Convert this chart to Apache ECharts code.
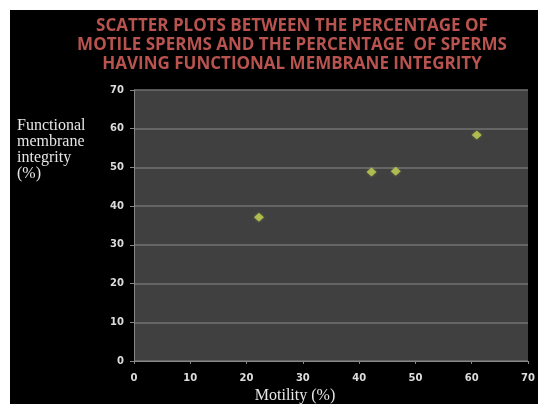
<!DOCTYPE html>
<html>
<head>
<meta charset="utf-8">
<script src="https://cdn.jsdelivr.net/npm/echarts@6/dist/echarts.min.js"></script>
<style>
  html, body { margin: 0; padding: 0; background: #ffffff; }
  #chart { width: 538px; height: 404px; }
</style>
</head>
<body>
<div id="chart"></div>
<script>
// Motility (%) vs functional membrane integrity (%)
const motility = [22.2, 42.2, 46.5, 60.9];
const membraneIntegrity = [37.1, 48.8, 49.0, 58.4];
const titleLines = [
  'SCATTER PLOTS BETWEEN THE PERCENTAGE OF',
  'MOTILE SPERMS AND THE PERCENTAGE  OF SPERMS',
  'HAVING FUNCTIONAL MEMBRANE INTEGRITY'
];
const yTitleLines = ['Functional', 'membrane', 'integrity', '(%)'];
const xTitle = 'Motility (%)';

const points = motility.map((m, i) => [m, membraneIntegrity[i]]);

const chart = echarts.init(document.getElementById('chart'), null, { renderer: 'canvas' });

const titleColor = '#b8534f';
const tickLabel = { color: '#dcdcdc', fontFamily: 'DejaVu Sans', fontWeight: 'bold', fontSize: 10 };

chart.setOption({
  backgroundColor: '#ffffff',
  animation: false,
  graphic: [
    { type: 'rect', left: 10, top: 10, z: -10, shape: { width: 528, height: 394 }, style: { fill: '#000000' } },
    { type: 'text', x: 292, y: 17,
      style: { text: titleLines.join('\n'), fill: titleColor, font: 'bold 17px "Open Sans"', lineHeight: 19, align: 'center' } },
    { type: 'text', left: 17, top: 118,
      style: { text: yTitleLines.join('\n'), fill: '#e6e6e6', font: '16px "Liberation Serif"', lineHeight: 16 } },
    { type: 'text', x: 295, y: 396,
      style: { text: xTitle, fill: '#e6e6e6', font: '16px "Liberation Serif"', align: 'center', verticalAlign: 'middle' } }
  ],
  grid: { left: 134, right: 10, top: 90, bottom: 43, backgroundColor: '#404040', show: true, borderWidth: 0 },
  xAxis: {
    type: 'value', min: 0, max: 70, interval: 10,
    axisLine: { show: true, lineStyle: { color: '#888888', width: 1 } },
    axisTick: { show: true, length: 3, lineStyle: { color: '#888888' } },
    splitLine: { show: false },
    axisLabel: Object.assign({ margin: 12 }, tickLabel)
  },
  yAxis: {
    type: 'value', min: 0, max: 70, interval: 10,
    axisLine: { show: true, lineStyle: { color: '#888888', width: 1 } },
    axisTick: { show: true, length: 4, lineStyle: { color: '#888888' } },
    splitLine: { show: true, lineStyle: { color: '#727272', width: 1.5 } },
    axisLabel: Object.assign({ margin: 10 }, tickLabel)
  },
  series: [{
    type: 'scatter',
    data: points,
    symbol: 'diamond',
    symbolSize: [10, 9],
    itemStyle: { color: '#c3d152', shadowColor: 'rgba(190,210,80,0.4)', shadowBlur: 3 }
  }]
});
</script>
</body>
</html>
